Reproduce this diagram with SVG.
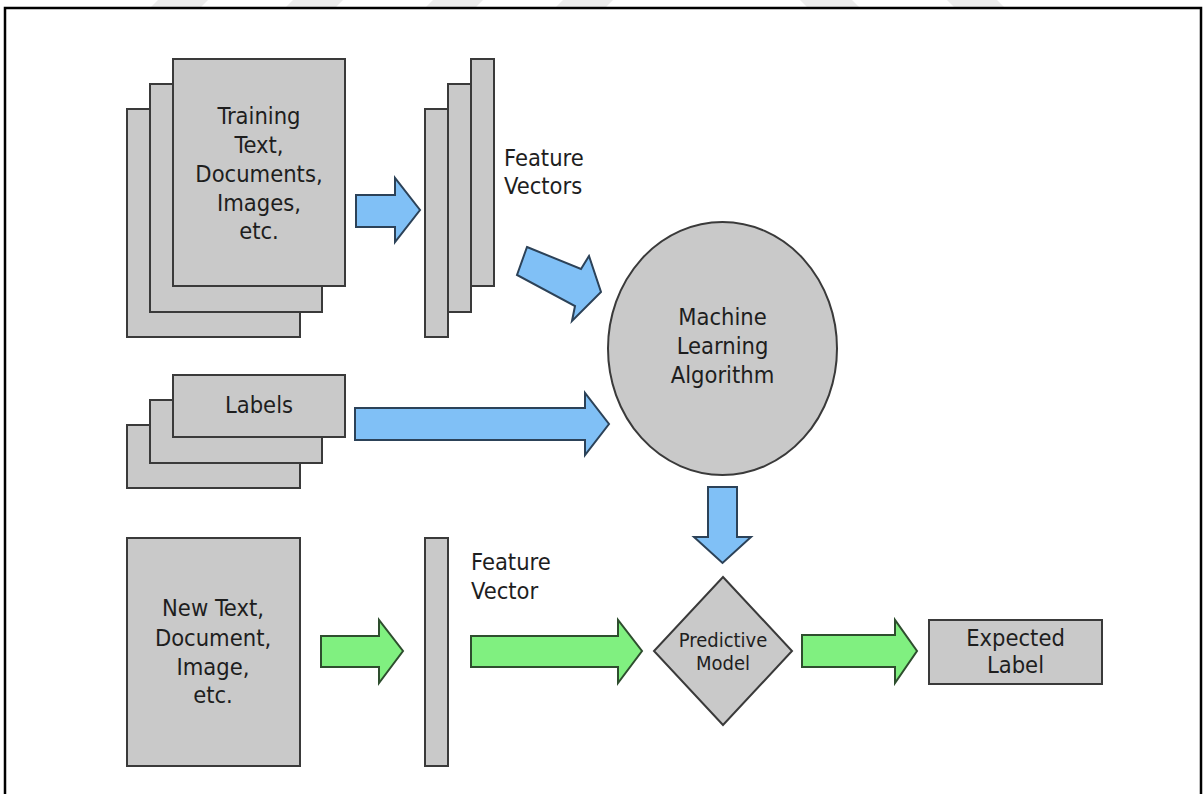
<svg xmlns="http://www.w3.org/2000/svg" width="1203" height="794" viewBox="0 0 1203 794">
<style>
.box{fill:#c9c9c9;stroke:#3a3a3a;stroke-width:2}
.blue{fill:#80c0f6;stroke:#2c4258;stroke-width:2;stroke-linejoin:miter}
.green{fill:#80f080;stroke:#2e4e2e;stroke-width:2;stroke-linejoin:miter}
.t{font-family:"DejaVu Sans Condensed","DejaVu Sans",sans-serif;font-stretch:condensed;font-size:23.5px;fill:#1e1e1e}
.c{text-anchor:middle}
.s{font-size:20px}
.wm{fill:#ececec}
</style>
<rect width="1203" height="794" fill="#ffffff"/>
<g id="watermark">
<polygon class="wm" points="158,0 208,0 200,8 150,8"/>
<polygon class="wm" points="293,0 343,0 335,8 285,8"/>
<polygon class="wm" points="433,0 483,0 475,8 425,8"/>
<polygon class="wm" points="563,0 613,0 605,8 555,8"/>
<polygon class="wm" points="800,0 852,0 860,8 808,8"/>
<polygon class="wm" points="947,0 997,0 1005,8 955,8"/>
</g>
<path id="frame" d="M5,800 V8 H1201 V800" fill="none" stroke="#000" stroke-width="2.5"/>

<g id="training-docs">
<rect class="box" x="127" y="109" width="173" height="228"/>
<rect class="box" x="150" y="84" width="172" height="228"/>
<rect class="box" x="173" y="59" width="172" height="227"/>
<text class="t c" x="259" y="124">Training</text>
<text class="t c" x="259" y="153">Text,</text>
<text class="t c" x="259" y="182">Documents,</text>
<text class="t c" x="259" y="211">Images,</text>
<text class="t c" x="259" y="239">etc.</text>
</g>

<g id="feature-vectors">
<rect class="box" x="425" y="109" width="23" height="228"/>
<rect class="box" x="448" y="84" width="23" height="228"/>
<rect class="box" x="471" y="59" width="23" height="227"/>
<text class="t" x="504" y="166">Feature</text>
<text class="t" x="504" y="194">Vectors</text>
</g>

<g id="labels">
<rect class="box" x="127" y="425" width="173" height="63"/>
<rect class="box" x="150" y="400" width="172" height="63"/>
<rect class="box" x="173" y="375" width="172" height="62"/>
<text class="t c" x="259" y="413">Labels</text>
</g>

<g id="ml-algorithm">
<ellipse class="box" cx="722.5" cy="348.5" rx="114.5" ry="126.5"/>
<text class="t c" x="722.5" y="325">Machine</text>
<text class="t c" x="722.5" y="354">Learning</text>
<text class="t c" x="722.5" y="383">Algorithm</text>
</g>

<g id="new-doc">
<rect class="box" x="127" y="538" width="173" height="228"/>
<text class="t c" x="213" y="616">New Text,</text>
<text class="t c" x="213" y="646">Document,</text>
<text class="t c" x="213" y="675">Image,</text>
<text class="t c" x="213" y="703">etc.</text>
</g>

<g id="feature-vector">
<rect class="box" x="425" y="538" width="23" height="228"/>
<text class="t" x="471" y="570">Feature</text>
<text class="t" x="471" y="599">Vector</text>
</g>

<g id="predictive-model">
<polygon class="box" points="723,577 792,651 723,725 654,651"/>
<text class="t c s" x="723" y="647">Predictive</text>
<text class="t c s" x="723" y="670">Model</text>
</g>

<g id="expected-label">
<rect class="box" x="929" y="620" width="173" height="64"/>
<text class="t c" x="1015.5" y="646">Expected</text>
<text class="t c" x="1015.5" y="673">Label</text>
</g>

<g id="connectors">
<polygon class="blue" points="356,195 395,195 395,178 420,210 395,242 395,227 356,227"/>
<polygon class="blue" points="527,247 581,269 589,256 601,292 572,321 575,306 517,275"/>
<polygon class="blue" points="355,408 585,408 585,393 609,424 585,455 585,440 355,440"/>
<polygon class="blue" points="708,487 737,487 737,537 751,537 722.5,563 694,537 708,537"/>
<polygon class="green" points="321,636 379,636 379,620 403,651 379,683 379,667 321,667"/>
<polygon class="green" points="471,636 618,636 618,620 642,651 618,683 618,667 471,667"/>
<polygon class="green" points="802,635 895,635 895,620 917,651 895,683 895,667 802,667"/>
</g>
</svg>
